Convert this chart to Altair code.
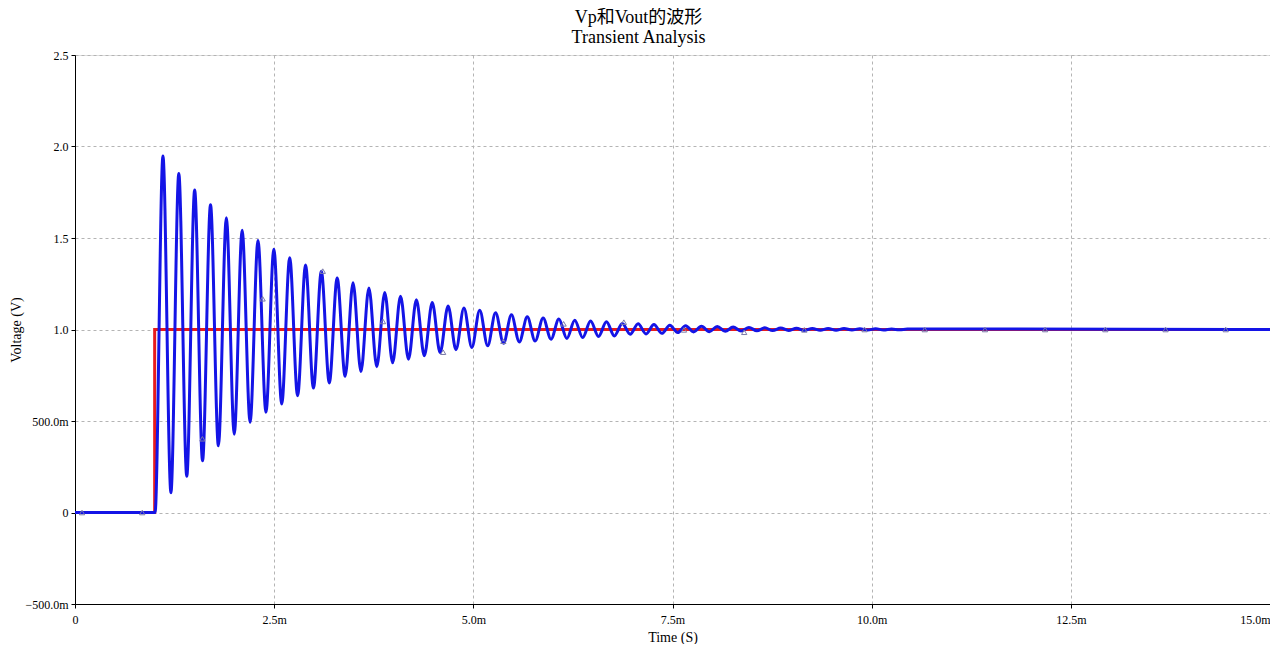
import altair as alt
import pandas as pd

# ---- data (time in ms, voltage in V) ----
vp_t = [0.0, 1.0, 1.0, 15.0]
vp_v = [0.0, 0.0, 1.0, 1.0]

# Vout: start, then successive troughs/peaks of the ringing, then settled end
vout_t = [0.0,
          1.005, 1.104, 1.204, 1.303, 1.403, 1.502, 1.601, 1.701, 1.800, 1.900,
          1.999, 2.098, 2.198, 2.297, 2.397, 2.496, 2.595, 2.695, 2.794, 2.894,
          2.993, 3.092, 3.192, 3.291, 3.391, 3.490, 3.589, 3.689, 3.788, 3.888,
          3.987, 4.086, 4.186, 4.285, 4.385, 4.484, 4.583, 4.683, 4.782, 4.882,
          4.981, 5.080, 5.180, 5.279, 5.379, 5.478, 5.577, 5.677, 5.776, 5.876,
          5.975, 6.074, 6.174, 6.273, 6.373, 6.472, 6.571, 6.671, 6.770, 6.870,
          6.969, 7.068, 7.168, 7.267, 7.367, 7.466, 7.565, 7.665, 7.764, 7.864,
          7.963, 8.062, 8.162, 8.261, 8.361, 8.460, 8.559, 8.659, 8.758, 8.858,
          8.957, 9.056, 9.156, 9.255, 9.355, 9.454, 9.553, 9.653, 9.752, 9.852,
          9.951, 10.050, 10.150, 10.249, 10.349, 10.448,
          15.0]
vout_v = [0.0,
          0.000, 1.948, 0.108, 1.852, 0.198, 1.762, 0.283, 1.682, 0.365, 1.610,
          0.428, 1.542, 0.493, 1.487, 0.548, 1.438, 0.593, 1.392, 0.638, 1.352,
          0.680, 1.318, 0.708, 1.282, 0.745, 1.256, 0.770, 1.227, 0.797, 1.202,
          0.818, 1.182, 0.838, 1.162, 0.857, 1.147, 0.874, 1.129, 0.890, 1.118,
          0.902, 1.105, 0.911, 1.092, 0.925, 1.080, 0.932, 1.069, 0.937, 1.063,
          0.947, 1.057, 0.951, 1.051, 0.956, 1.046, 0.962, 1.042, 0.965, 1.033,
          0.974, 1.031, 0.976, 1.027, 0.979, 1.023, 0.983, 1.020, 0.987, 1.018,
          0.988, 1.017, 0.990, 1.013, 0.992, 1.011, 0.993, 1.009, 0.994, 1.008,
          0.995, 1.007, 0.995, 1.006, 0.996, 1.005, 0.996, 1.005, 0.997, 1.004,
          0.997, 1.004, 0.997, 1.003, 0.998, 1.003,
          1.0]

# small triangle data markers on the Vout trace
marker_t = [0.088, 0.844, 1.599, 2.355, 3.110, 3.866, 4.621, 5.377, 6.133, 6.889,
            7.644, 8.400, 9.155, 9.911, 10.666, 11.422, 12.177, 12.933, 13.689, 14.444]
marker_v = [0.0, 0.0, 0.403, 1.168, 1.319, 1.044, 0.876, 0.936, 1.031, 1.040,
            0.998, 0.985, 0.998, 1.0, 1.0, 1.0, 1.0, 1.0, 1.0, 1.0]

x_ticks = [0, 2.5, 5.0, 7.5, 10.0, 12.5, 15.0]
y_ticks = [-0.5, 0, 0.5, 1.0, 1.5, 2.0, 2.5]

FONT = "Liberation Serif"
TITLE_FONT = "Liberation Serif, Noto Sans CJK SC"

vp_df = pd.DataFrame({"t": vp_t, "v": vp_v, "order": list(range(len(vp_t)))})
vout_df = pd.DataFrame({"t": vout_t, "v": vout_v, "order": list(range(len(vout_t)))})
mk_df = pd.DataFrame({"t": marker_t, "v": marker_v})

xscale = alt.Scale(domain=[0, 15], nice=False, zero=False)
yscale = alt.Scale(domain=[-0.5, 2.5], nice=False, zero=False)

xaxis = alt.Axis(
    values=x_ticks,
    labelExpr="datum.value == 0 ? '0' : format(datum.value, '.1f') + 'm'",
    title="Time (S)",
    grid=True, gridDash=[3, 3], gridColor="#b4b4b4", gridWidth=1,
    domainColor="black", domainWidth=1,
    tickColor="black", tickSize=4,
    labelFont=FONT, labelFontSize=12, labelColor="black", labelPadding=6,
    labelAlign={"condition": {"test": "datum.value >= 15", "value": "right"}, "value": "center"},
    labelFlush=False, labelOverlap=False,
    titleFont=FONT, titleFontSize=14, titleFontWeight="normal", titleColor="black",
    titleY=37, titleBaseline="alphabetic",
)
yaxis = alt.Axis(
    values=y_ticks,
    labelExpr="datum.value == 0 ? '0' : (abs(datum.value) >= 1 ? format(datum.value, '.1f') : format(datum.value * 1000, '.1f') + 'm')",
    title="Voltage (V)",
    grid=True, gridDash=[3, 3], gridColor="#b4b4b4", gridWidth=1,
    domainColor="black", domainWidth=1,
    tickColor="black", tickSize=4,
    labelFont=FONT, labelFontSize=12, labelColor="black", labelPadding=3,
    labelFlush=False, labelOverlap=False,
    titleFont=FONT, titleFontSize=14, titleFontWeight="normal", titleColor="black",
    titleAngle=270, titleX=-59, titleY=274.5, titleAlign="center", titleBaseline="middle",
)

base_x = alt.X("t:Q", scale=xscale, axis=xaxis)
base_y = alt.Y("v:Q", scale=yscale, axis=yaxis)

vp_line = alt.Chart(vp_df).mark_line(color="#e81c1c", strokeWidth=3, interpolate="linear").encode(
    x=base_x, y=base_y, order="order:Q"
)
vout_line = alt.Chart(vout_df).mark_line(color="#1414e6", strokeWidth=3, interpolate="monotone").encode(
    x=alt.X("t:Q", scale=xscale), y=alt.Y("v:Q", scale=yscale), order="order:Q"
)
markers = alt.Chart(mk_df).mark_point(shape="triangle-up", filled=False, size=28,
                                      color="#7a7aa8", strokeWidth=1, opacity=1).encode(
    x=alt.X("t:Q", scale=xscale), y=alt.Y("v:Q", scale=yscale)
)

chart = alt.layer(vp_line, vout_line, markers).properties(
    width=1195,
    height=549,
    title=alt.TitleParams(
        text=["Vp和Vout的波形", "Transient Analysis"],
        font=TITLE_FONT, fontSize=18, fontWeight="normal", color="black",
        anchor="middle", dx=-34, lineHeight=20, offset=2,
    ),
    autosize=alt.AutoSizeParams(type="none"),
    padding={"left": 67, "top": 47, "right": 0, "bottom": 40},
).configure_view(stroke=None).configure(background="white")

chart.save("out.html", embed_options={"renderer": "svg", "actions": False})
